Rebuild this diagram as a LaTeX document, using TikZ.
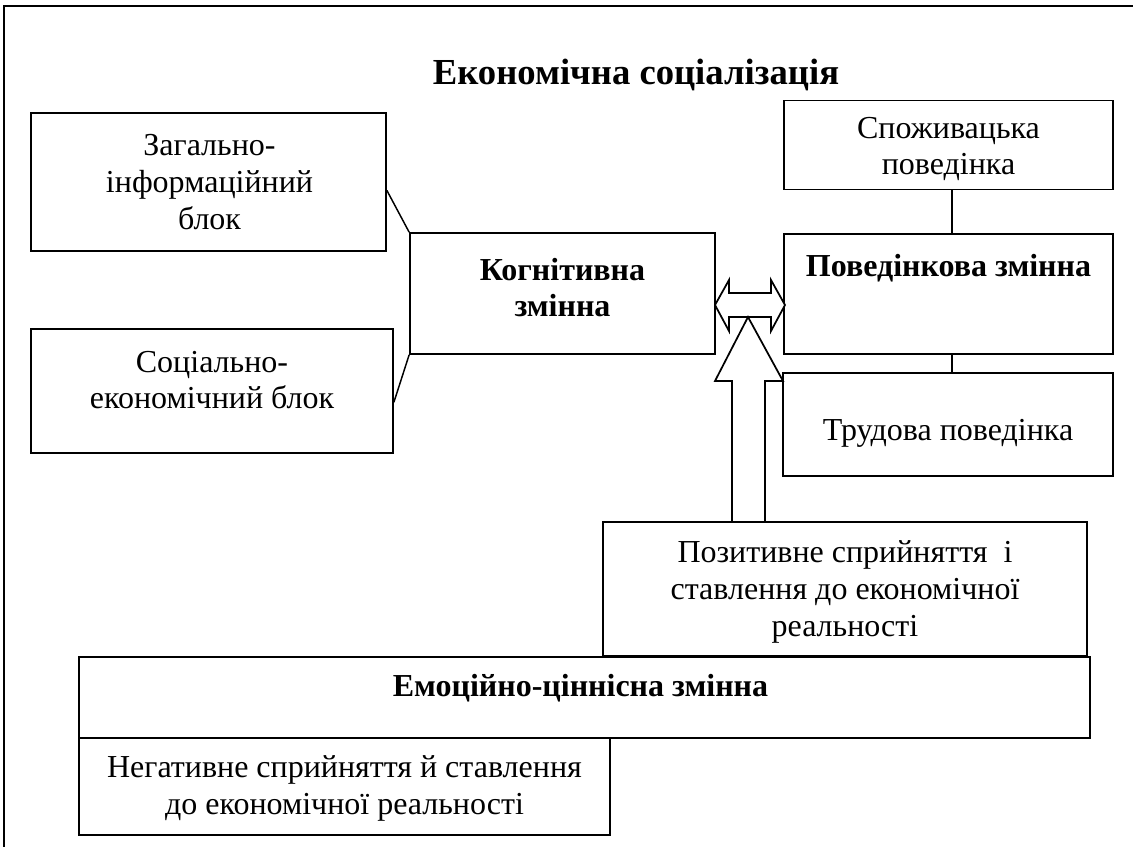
\documentclass[tikz,border=0pt]{standalone}
\usepackage{fontspec}
\setmainfont{Liberation Serif}
\usetikzlibrary{calc}
\begin{document}
\begin{tikzpicture}[x=0.75pt,y=-0.75pt,
  box/.style={draw,line width=1.3pt,rectangle,inner sep=0pt},
  txt/.style={align=center,font=\fontsize{24}{27.6}\selectfont,inner sep=0pt},
  btxt/.style={align=center,font=\fontsize{24}{27.6}\selectfont\bfseries,inner sep=0pt},
  link/.style={line width=1.1pt},
  hollow/.style={draw,line width=1.3pt,fill=white,line join=miter}]
\useasboundingbox (0,0) rectangle (1133,847);
% frame
\coordinate (fTR) at (1133,6);
\coordinate (fTL) at (4,6);
\coordinate (fBL) at (4,847);
\draw[line width=1.2pt] (fTR) -- (fTL) -- (fBL);
% title
\node[font=\fontsize{27.5}{30}\selectfont\bfseries,inner sep=0pt,anchor=base] (title) at (636,84) {Економічна соціалізація};
% boxes
\node[box,minimum width=266.25pt,minimum height=103.5pt] (A) at (208.5,182) {};
\node[box,minimum width=271.5pt,minimum height=93pt] (B) at (212,391) {};
\node[box,minimum width=228.75pt,minimum height=90.75pt] (Cog) at (562.5,293.5) {};
\node[box,minimum width=246.75pt,minimum height=90pt] (Beh) at (948.5,294) {};
\node[box,minimum width=246.75pt,minimum height=66.75pt] (Spozh) at (948.5,145) {};
\node[box,minimum width=247.5pt,minimum height=77.25pt] (Trud) at (948,424.5) {};
\node[box,minimum width=363pt,minimum height=100.5pt] (Pos) at (845,589) {};
\node[box,minimum width=758.25pt,minimum height=60.75pt] (Emo) at (584.5,697.5) {};
\node[box,minimum width=398.25pt,minimum height=72.75pt] (Neg) at (344.5,786.5) {};
% texts
\node[txt] (tA) at ($(A.center)+(1,0)$) {Загально-\\інформаційний\\блок};
\node[txt] (tB) at ($(B.center)+(0,-11)$) {Соціально-\\економічний блок};
\node[btxt] (tCog) at ($(Cog.center)+(0,-6)$) {Когнітивна\\змінна};
\node[btxt] (tBeh) at ($(Beh.center)+(0,-26)$) {Поведінкова змінна};
\node[txt] (tSpozh) at ($(Spozh.center)+(0,4)$) {Споживацька\\поведінка};
\node[txt] (tTrud) at ($(Trud.center)+(0,9)$) {Трудова поведінка};
\node[txt] (tPos) at ($(Pos.center)+(0,3)$) {Позитивне сприйняття\ \ і\\ставлення до економічної\\реальності};
\node[btxt] (tEmo) at ($(Emo.center)+(-4,-9)$) {Емоційно-ціннісна змінна};
\node[txt] (tNeg) at ($(Neg.center)+(0,2)$) {Негативне сприйняття й ставлення\\до економічної реальності};
% connectors
\draw[link] ($(A.north east)!0.56!(A.south east)$) -- (Cog.north west);
\draw[link] (Cog.south west) -- ($(B.north east)!0.59!(B.south east)$);
\draw[link] ($(Spozh.south)+(3.5,0)$) -- ($(Beh.north)+(3.5,0)$);
\draw[link] ($(Beh.south)+(3.5,0)$) -- ($(Trud.north)+(4,0)$);
% double hollow arrow between Cog and Beh
\draw[hollow] (715,305) -- (729,280) -- (729,293) -- (771,293) -- (771,280) -- (785,305)
  -- (771,331) -- (771,317) -- (729,317) -- (729,331) -- cycle;
% upward hollow arrow from Pos
\draw[hollow] (748,317) -- (783,381) -- (765,381) -- (765,522) -- (732,522) -- (732,381) -- (715,381) -- cycle;
\end{tikzpicture}
\end{document}
